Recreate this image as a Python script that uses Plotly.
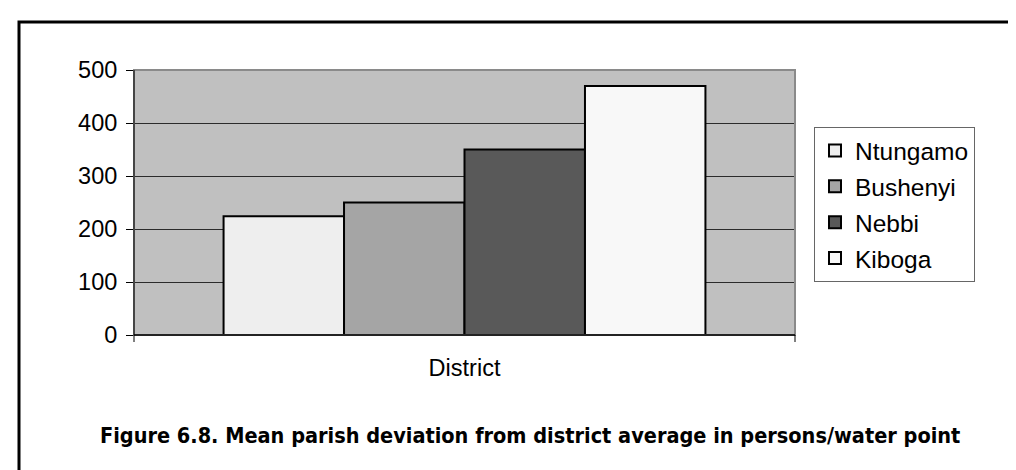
import plotly.graph_objects as go

categories = ["District"]
series_names = ["Ntungamo", "Bushenyi", "Nebbi", "Kiboga"]
series_values = [224, 250, 350, 470]
series_colors = ["#eeeeee", "#a5a5a5", "#595959", "#f8f8f8"]
y_ticks = [0, 100, 200, 300, 400, 500]
caption = "Figure 6.8. Mean parish deviation from district average in persons/water point"

FONT = "Liberation Sans, Arial, sans-serif"

fig = go.Figure()
for i, (name, val, col) in enumerate(zip(series_names, series_values, series_colors)):
    fig.add_trace(go.Bar(
        x=categories, y=[val], name=name, legendgroup=name,
        marker=dict(color=col, line=dict(color="#000000", width=2)),
    ))

W, H = 1016, 470
L, R, T, B = 126, 229, 62, 143
pw = W - L - R
ph = H - T - B

def px_x(p):
    return (p - L) / pw

def px_y(p):
    return (H - B - p) / ph

shapes = [
    dict(type="rect", xref="paper", yref="paper", x0=0, y0=0, x1=1, y1=1,
         line=dict(color="#8a8a8a", width=2), layer="above"),
    dict(type="line", xref="paper", yref="paper", x0=0, y0=0, x1=0, y1=1,
         line=dict(color="#000000", width=1), layer="above"),
    dict(type="line", xref="paper", yref="paper", x0=0, y0=0, x1=1, y1=0,
         line=dict(color="#000000", width=1.5), layer="above"),
    dict(type="line", xref="paper", yref="paper", x0=0, y0=0, x1=0, y1=px_y(334),
         line=dict(color="#000000", width=1)),
    dict(type="line", xref="paper", yref="paper", x0=1, y0=0, x1=1, y1=px_y(334),
         line=dict(color="#000000", width=1)),
    dict(type="rect", xref="paper", yref="paper", x0=px_x(11), y0=px_y(14),
         x1=px_x(1100), y1=px_y(600), line=dict(color="#000000", width=3)),
]

fig.update_layout(
    width=W, height=H,
    margin=dict(l=L, r=R, t=T, b=B),
    paper_bgcolor="#ffffff",
    plot_bgcolor="#c0c0c0",
    font=dict(family=FONT, size=23.5, color="#000000"),
    barmode="group",
    bargap=0.271,
    bargroupgap=0,
    showlegend=True,
    legend=dict(
        x=px_x(806), y=px_y(119), xanchor="left", yanchor="top",
        bgcolor="#ffffff", bordercolor="#666666", borderwidth=1,
        font=dict(family=FONT, size=24.5, color="#000000"),
        tracegroupgap=1, itemwidth=30,
    ),
    xaxis=dict(
        type="category", showgrid=False, ticks="", showline=False,
        tickfont=dict(family=FONT, size=23.5), ticklabelstandoff=16,
        zeroline=False,
    ),
    yaxis=dict(
        range=[0, 500], tickvals=y_ticks, ticktext=[str(v) for v in y_ticks],
        showgrid=True, gridcolor="#2b2b2b", gridwidth=1,
        ticks="outside", ticklen=7, tickcolor="#000000", tickwidth=1,
        showline=False, zeroline=False,
        tickfont=dict(family=FONT, size=23.5), ticklabelstandoff=4,
    ),
    shapes=shapes,
    annotations=[
        dict(text="<b>" + caption + "</b>", xref="paper", yref="paper",
             x=px_x(522), y=px_y(427), xanchor="center", yanchor="middle",
             showarrow=False,
             font=dict(family="Liberation Sans Narrow, DejaVu Sans Condensed, Arial Narrow, sans-serif",
                       size=21.5, color="#000000")),
    ],
)

fig.write_html("out.html")
